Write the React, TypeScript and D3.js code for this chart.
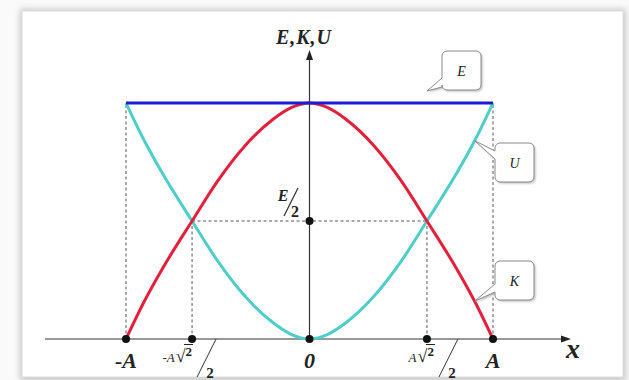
import { useEffect, useRef } from 'react';
import * as d3 from 'd3';

// positions along x, in units of the amplitude A
const xPositions = [-1, -0.9, -0.8, -0.64, -0.5, -0.35, -0.2, -0.1, 0, 0.1, 0.2, 0.35, 0.5, 0.64, 0.8, 0.9, 1];
// potential energy U, as a fraction of E
const uValues = [1, 0.84, 0.7, 0.5, 0.33, 0.18, 0.07, 0.02, 0, 0.02, 0.07, 0.18, 0.33, 0.5, 0.7, 0.84, 1];
// kinetic energy K, as a fraction of E
const kValues = [0, 0.16, 0.3, 0.5, 0.67, 0.82, 0.93, 0.98, 1, 0.98, 0.93, 0.82, 0.67, 0.5, 0.3, 0.16, 0];
// total energy E
const eX = [-1, 1];
const eValues = [1, 1];

// marked points on the x axis
const xTicks = [-1, -0.64, 0, 0.64, 1];
const xTickLabels = ['-A', '-A', '0', 'A', 'A'];
const xTickFraction = [false, true, false, true, false];
const halfE = 0.5;

// callouts: series name, and the x where the pointer touches the curve
const calloutNames = ['E', 'U', 'K'];
const calloutAt = [0.64, 0.9, 0.9];

const W = 629;
const H = 380;
const SERIF = "'Liberation Serif', 'DejaVu Serif', serif";

export default function App() {
  const svgRef = useRef<SVGSVGElement | null>(null);

  useEffect(() => {
    if (!svgRef.current) return;
    const svg = d3.select(svgRef.current);
    svg.selectAll('*').remove();

    const x = d3.scaleLinear().domain([-1, 1]).range([126, 493]);
    const y = d3.scaleLinear().domain([0, 1]).range([339, 103]);

    // panel with a soft shadow
    const defs = svg.append('defs');
    const f = defs.append('filter').attr('id', 'shadow').attr('x', '-5%').attr('y', '-5%').attr('width', '110%').attr('height', '110%');
    f.append('feGaussianBlur').attr('stdDeviation', 3);
    const f2 = defs.append('filter').attr('id', 'boxshadow').attr('x', '-20%').attr('y', '-20%').attr('width', '140%').attr('height', '140%');
    f2.append('feGaussianBlur').attr('stdDeviation', 1);

    svg.append('rect').attr('width', W).attr('height', H).attr('fill', '#fafafa');
    svg.append('rect')
      .attr('x', 20).attr('y', 9).attr('width', 606).attr('height', 372)
      .attr('fill', '#c8c8c8').attr('filter', 'url(#shadow)');
    svg.append('rect')
      .attr('x', 22).attr('y', 11).attr('width', 601).attr('height', 366)
      .attr('fill', '#fff').attr('stroke', '#dcdcdc').attr('stroke-width', 1);

    const g = svg.append('g');

    // dashed guides
    const dash = (x1: number, y1: number, x2: number, y2: number) =>
      g.append('line')
        .attr('x1', x1).attr('y1', y1).attr('x2', x2).attr('y2', y2)
        .attr('stroke', '#444').attr('stroke-width', 0.9).attr('stroke-dasharray', '3,2.5');
    dash(x(-1), y(0), x(-1), y(1));
    dash(x(1), y(0), x(1), y(1));
    dash(x(-0.64), y(0), x(-0.64), y(halfE));
    dash(x(0.64), y(0), x(0.64), y(halfE));
    dash(x(-0.64), y(halfE), x(0.64), y(halfE));

    // axes
    g.append('line').attr('x1', 45).attr('y1', y(0)).attr('x2', 564).attr('y2', y(0))
      .attr('stroke', '#333').attr('stroke-width', 1.2);
    g.append('path').attr('d', `M571,${y(0)} L561,${y(0) - 3.5} L561,${y(0) + 3.5} Z`).attr('fill', '#222');
    g.append('line').attr('x1', x(0)).attr('y1', y(0)).attr('x2', x(0)).attr('y2', 58)
      .attr('stroke', '#333').attr('stroke-width', 1.2);
    g.append('path').attr('d', `M${x(0)},50 L${x(0) - 3.5},60 L${x(0) + 3.5},60 Z`).attr('fill', '#222');

    // curves
    const line = d3.line<[number, number]>()
      .x(d => x(d[0]))
      .y(d => y(d[1]))
      .curve(d3.curveMonotoneX);

    g.append('path')
      .attr('d', line(xPositions.map((v, i) => [v, uValues[i]]) as [number, number][]))
      .attr('fill', 'none').attr('stroke', '#4fcdc8').attr('stroke-width', 3);
    g.append('path')
      .attr('d', line(xPositions.map((v, i) => [v, kValues[i]]) as [number, number][]))
      .attr('fill', 'none').attr('stroke', '#e3203c').attr('stroke-width', 3);
    g.append('path')
      .attr('d', line(eX.map((v, i) => [v, eValues[i]]) as [number, number][]))
      .attr('fill', 'none').attr('stroke', '#1c1cd6').attr('stroke-width', 3);

    // dots
    xTicks.forEach(t => {
      g.append('circle').attr('cx', x(t)).attr('cy', y(0)).attr('r', 4).attr('fill', '#111');
    });
    g.append('circle').attr('cx', x(0)).attr('cy', y(halfE)).attr('r', 4).attr('fill', '#111');

    // tick labels
    xTicks.forEach((t, i) => {
      const tx = x(t);
      if (!xTickFraction[i]) {
        g.append('text')
          .attr('x', tx).attr('y', 368)
          .attr('text-anchor', 'middle')
          .style('font-family', SERIF).style('font-style', 'italic').style('font-weight', 'bold')
          .style('font-size', '22px').attr('fill', '#222')
          .text(xTickLabels[i]);
      } else {
        const shift = t < 0 ? 0 : 7;
        const txt = g.append('text')
          .attr('x', tx + shift).attr('y', 362)
          .attr('text-anchor', 'end')
          .style('font-family', SERIF).attr('fill', '#222');
        txt.append('tspan').style('font-style', 'italic').style('font-size', '13px').text(xTickLabels[i]);
        txt.append('tspan').style('font-size', '18px').attr('dx', 1).text('√');
        txt.append('tspan').style('font-size', '13px').style('font-weight', 'bold').attr('dy', -6).text('2');
        // radical bar over the 2
        g.append('line')
          .attr('x1', tx + shift - 8).attr('y1', 344.5).attr('x2', tx + shift + 1).attr('y2', 344.5)
          .attr('stroke', '#222').attr('stroke-width', 1);
        g.append('line')
          .attr('x1', tx + shift + 24).attr('y1', 339)
          .attr('x2', tx + shift + 5).attr('y2', 377)
          .attr('stroke', '#333').attr('stroke-width', 1);
        g.append('text')
          .attr('x', tx + shift + 18).attr('y', 378)
          .attr('text-anchor', 'middle')
          .style('font-family', SERIF).style('font-weight', 'bold').style('font-size', '15px')
          .attr('fill', '#222').text('2');
      }
    });

    // x label
    g.append('text')
      .attr('x', 573).attr('y', 358).attr('text-anchor', 'middle')
      .style('font-family', SERIF).style('font-style', 'italic').style('font-weight', 'bold')
      .style('font-size', '28px').attr('fill', '#222').text('x');

    // y label
    g.append('text')
      .attr('x', 304).attr('y', 44).attr('text-anchor', 'middle')
      .style('font-family', SERIF).style('font-style', 'italic').style('font-weight', 'bold')
      .style('font-size', '20px').style('letter-spacing', '1px').attr('fill', '#222').text('E,K,U');

    // E/2 label
    g.append('text')
      .attr('x', 283).attr('y', 201).attr('text-anchor', 'middle')
      .style('font-family', SERIF).style('font-style', 'italic').style('font-weight', 'bold')
      .style('font-size', '16px').attr('fill', '#222').text('E');
    g.append('line')
      .attr('x1', 298).attr('y1', 188).attr('x2', 284).attr('y2', 216)
      .attr('stroke', '#333').attr('stroke-width', 1.2);
    g.append('text')
      .attr('x', 295).attr('y', 217).attr('text-anchor', 'middle')
      .style('font-family', SERIF).style('font-weight', 'bold')
      .style('font-size', '16px').attr('fill', '#222').text('2');

    // callouts
    const seriesValue = (name: string, at: number) => {
      if (name === 'E') return 1;
      const vals = name === 'U' ? uValues : kValues;
      return d3.scaleLinear().domain(xPositions.slice(8)).range(vals.slice(8))(at);
    };
    calloutNames.forEach((name, i) => {
      const px = x(calloutAt[i]);
      const py = name === 'E' ? y(1) - 12 : y(seriesValue(name, calloutAt[i]));
      let bx: number, by: number, t1: number, t2: number;
      if (name === 'E') {
        bx = 442; by = 51; t1 = by + 27; t2 = by + 36;
      } else if (name === 'U') {
        bx = 495; by = 143; t1 = by + 8; t2 = by + 16;
      } else {
        bx = 495; by = 261; t1 = by + 23; t2 = by + 31;
      }
      const bw = 39, bh = 39, r = 5;
      const box = d3.path();
      box.moveTo(bx + r, by);
      box.lineTo(bx + bw - r, by);
      box.arcTo(bx + bw, by, bx + bw, by + r, r);
      box.lineTo(bx + bw, by + bh - r);
      box.arcTo(bx + bw, by + bh, bx + bw - r, by + bh, r);
      box.lineTo(bx + r, by + bh);
      box.arcTo(bx, by + bh, bx, by + bh - r, r);
      box.lineTo(bx, t2);
      box.lineTo(px, py);
      box.lineTo(bx, t1);
      box.lineTo(bx, by + r);
      box.arcTo(bx, by, bx + r, by, r);
      box.closePath();
      g.append('path').attr('d', box.toString())
        .attr('transform', 'translate(1.5,1.5)')
        .attr('fill', '#bbb').attr('filter', 'url(#boxshadow)');
      g.append('path').attr('d', box.toString())
        .attr('fill', '#fff').attr('stroke', '#8a8a8a').attr('stroke-width', 1);
      g.append('text')
        .attr('x', bx + bw / 2).attr('y', by + bh / 2 + 5).attr('text-anchor', 'middle')
        .style('font-family', SERIF).style('font-style', 'italic')
        .style('font-size', '14px').attr('fill', '#222').text(name);
    });
  }, []);

  return (
    <svg
      ref={svgRef}
      width={W}
      height={H}
      style={{ position: 'absolute', left: 0, top: 0 }}
    />
  );
}
